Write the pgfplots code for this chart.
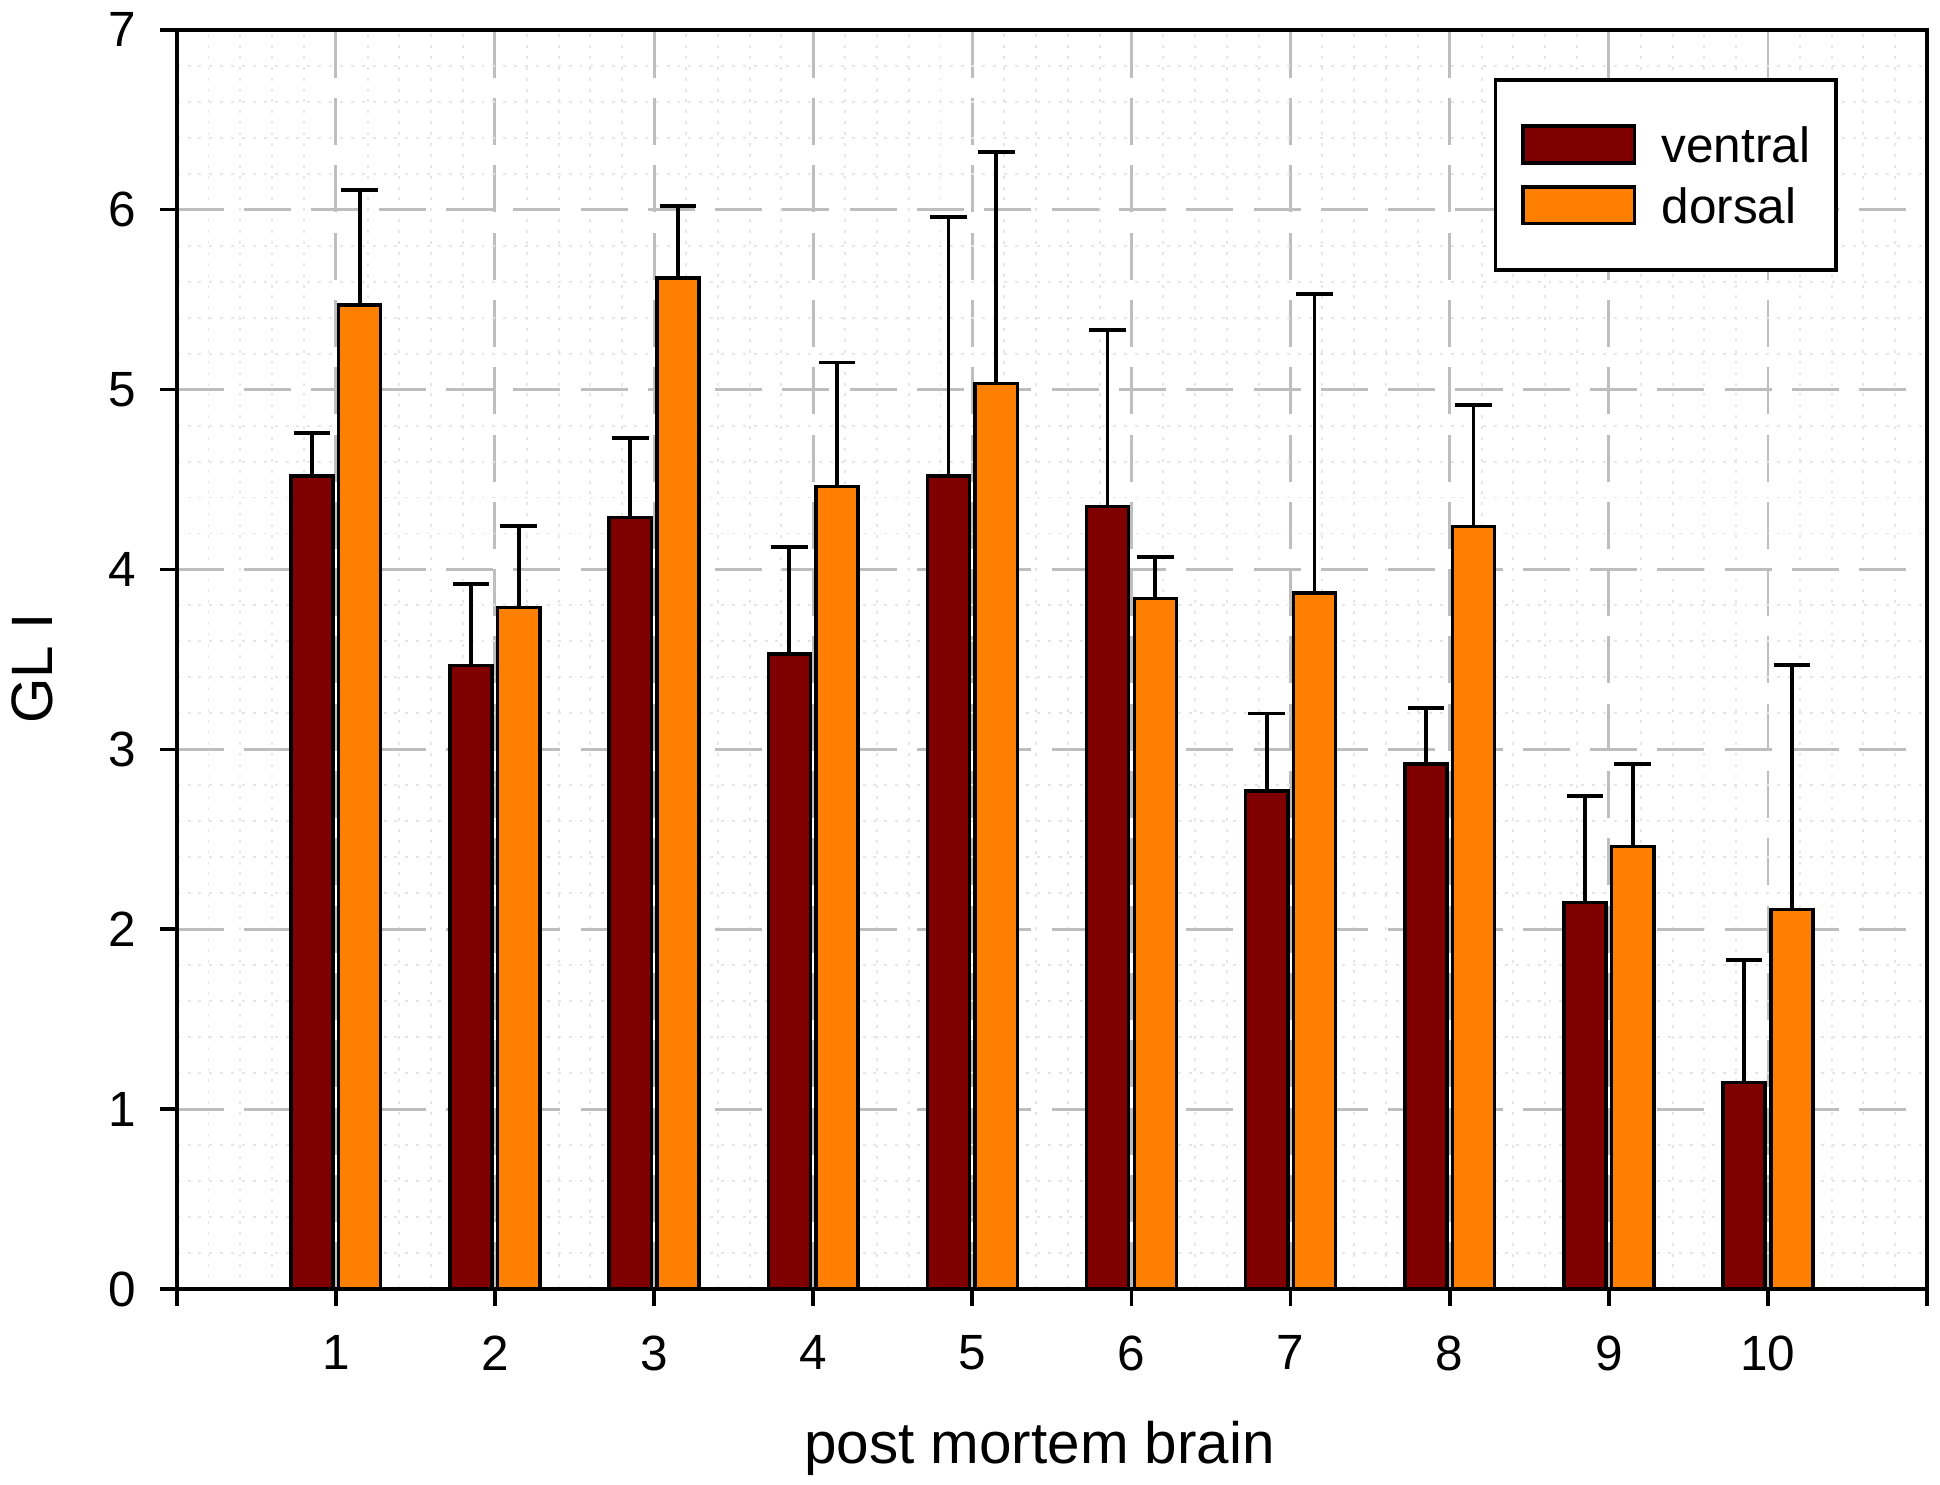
\documentclass[border=0pt]{standalone}
\usepackage{fontspec}
\setmainfont{Liberation Sans}
\usepackage{pgfplots}
\pgfplotsset{compat=1.18}
\usepackage{pgfplotstable}
\definecolor{ventral}{RGB}{128,0,0}
\definecolor{dorsal}{RGB}{255,128,0}
\definecolor{gridgray}{RGB}{190,190,190}
\definecolor{minorgray}{RGB}{230,230,230}

\pgfplotstableread{
x    y     e
0.85 4.52  0.24
1.85 3.465 0.455
2.85 4.29  0.44
3.85 3.53  0.595
4.85 4.52  1.44
5.85 4.35  0.98
6.85 2.77  0.43
7.85 2.92  0.31
8.85 2.15  0.59
9.85 1.15  0.68
}\ventraldata

\pgfplotstableread{
x     y     e
1.15  5.47  0.64
2.15  3.79  0.45
3.15  5.62  0.40
4.15  4.46  0.69
5.15  5.035 1.285
6.15  3.84  0.23
7.15  3.87  1.66
8.15  4.24  0.675
9.15  2.46  0.46
10.15 2.11  1.36
}\dorsaldata

\pgfplotsset{barlegend/.style={legend image code/.code={\draw[##1] (2.2pt,-3.7pt) rectangle (24.7pt,3.7pt);}}}

\begin{document}
\begin{tikzpicture}
\begin{axis}[
  scale only axis,
  width=353.7pt, height=254.5pt,
  xmin=0, xmax=11, ymin=0, ymax=7,
  xtick={0,...,11},
  xticklabels={,1,2,3,4,5,6,7,8,9,10,},
  ytick={0,...,7},
  minor x tick num=4, minor y tick num=4,
  minor tick length=0pt,
  major tick length=3.4pt,
  tick align=outside, tick pos=left,
  grid=both,
  major grid style={gridgray, line width=0.6pt, dash pattern=on 9.5pt off 4.1pt},
  minor grid style={minorgray, line width=0.4pt, dash pattern=on 0.6pt off 1.6pt},
  axis line style={line width=0.75pt, black},
  tick style={black, line width=0.75pt},
  tick label style={font=\fontsize{10}{12}\selectfont},
  xticklabel style={yshift=-2.5pt},
  yticklabel style={xshift=-1.3pt},
  /pgf/number format/assume math mode=true,
  every axis x label/.style={at={([xshift=-2.5pt,yshift=-35.2pt]rel axis cs:0.5,0)}, anchor=base},
  every axis y label/.style={at={([xshift=-29.2pt,yshift=-1.8pt]rel axis cs:0,0.5)}, rotate=90, anchor=center},
  label style={font=\fontsize{11.8}{14}\selectfont},
  xlabel={post mortem brain},
  ylabel={GL I},
  legend style={at={(1,1)}, anchor=north east, xshift=-18.1pt, yshift=-9.8pt,
    draw=black, line width=0.7pt, fill=white,
    inner xsep=5.2pt, inner ysep=9pt, row sep=4.2pt, column sep=5.1pt,
    cells={anchor=west},
    nodes={inner sep=0pt, text height=7.3pt, text depth=0pt, font=\fontsize{10}{12}\selectfont}},
]
\addplot[ybar, bar width=0.265, bar shift=0pt, fill=ventral, draw=black, line width=0.7pt, barlegend,
  error bars/.cd, y dir=plus, y explicit,
  error bar style={line width=0.75pt, black},
  error mark options={rotate=90, mark size=3.7pt, line width=0.75pt, black}]
  table[x=x, y=y, y error=e] {\ventraldata};
\addlegendentry{ventral}
\addplot[ybar, bar width=0.265, bar shift=0pt, fill=dorsal, draw=black, line width=0.7pt, barlegend,
  error bars/.cd, y dir=plus, y explicit,
  error bar style={line width=0.75pt, black},
  error mark options={rotate=90, mark size=3.7pt, line width=0.75pt, black}]
  table[x=x, y=y, y error=e] {\dorsaldata};
\addlegendentry{dorsal}
\end{axis}
\pgfresetboundingbox
\path[use as bounding box] ([shift={(-35.7pt,-39.56pt)}]current axis.south west) rectangle ([shift={(2.6pt,6pt)}]current axis.north east);
\end{tikzpicture}
\end{document}
